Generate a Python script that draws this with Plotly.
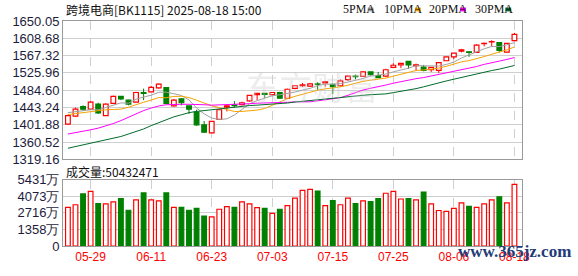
import plotly.graph_objects as go
import pandas as pd

# ---------------- data ----------------
dates = ["05-26","05-27","05-28","05-29","05-30","06-03","06-04","06-05","06-06","06-09",
         "06-10","06-11","06-12","06-13","06-16","06-17","06-18","06-19","06-20","06-23",
         "06-24","06-25","06-26","06-27","06-30","07-01","07-02","07-03","07-04","07-07",
         "07-08","07-09","07-10","07-11","07-14","07-15","07-16","07-17","07-18","07-21",
         "07-22","07-23","07-24","07-25","07-28","07-29","07-30","07-31","08-01","08-04",
         "08-05","08-06","08-07","08-08","08-11","08-12","08-13","08-14","08-15","08-18"]

opens = [1403.4,1422.6,1445.5,1439.4,1451.6,1424.1,1453.2,1470.0,1460.9,1456.2,
         1479.2,1480.8,1490.0,1490.7,1447.1,1463.9,1447.1,1432.5,1401.9,1382.7,
         1414.9,1444.0,1449.4,1450.1,1459.3,1473.9,1476.9,1473.9,1479.2,1465.4,
         1489.2,1495.3,1494.6,1499.6,1502.2,1498.4,1495.3,1509.9,1518.3,1517.5,
         1528.3,1519.8,1518.3,1539.0,1545.1,1553.5,1543.6,1539.8,1533.6,1532.1,
         1555.1,1564.3,1578.0,1576.5,1575.0,1595.7,1600.3,1598.7,1575.8,1603.3]
highs = [1426.4,1443.2,1448.6,1458.5,1454.7,1453.2,1471.6,1470.5,1461.5,1480.8,
         1488.4,1495.3,1500.7,1491.5,1463.9,1465.4,1447.5,1437.9,1411.1,1411.0,
         1439.4,1450.9,1458.5,1457.0,1473.0,1477.5,1477.5,1479.5,1480.8,1488.4,
         1495.5,1502.2,1502.2,1503.7,1506.8,1499.0,1510.6,1519.8,1522.1,1529.8,
         1529.0,1528.3,1535.9,1548.9,1549.0,1554.0,1548.2,1545.1,1539.5,1551.0,
         1565.0,1574.0,1583.4,1577.0,1594.9,1598.7,1604.1,1599.0,1597.0,1621.7]
lows = [1401.9,1421.0,1435.6,1437.9,1427.9,1424.1,1451.6,1460.9,1448.6,1455.0,
        1460.9,1479.5,1488.4,1451.6,1445.5,1448.6,1427.9,1399.6,1382.7,1382.0,
        1414.0,1434.0,1444.0,1448.6,1457.0,1460.9,1465.4,1470.0,1465.0,1463.9,
        1486.9,1492.3,1492.3,1485.4,1493.0,1476.2,1493.8,1506.8,1510.6,1516.0,
        1518.3,1514.0,1516.0,1537.5,1537.5,1536.0,1532.1,1529.8,1528.3,1526.0,
        1554.5,1558.9,1575.0,1564.3,1573.5,1589.5,1589.5,1575.0,1575.0,1601.8]
closes = [1424.1,1439.4,1439.4,1456.2,1430.2,1451.6,1470.0,1463.9,1451.6,1479.2,
          1476.9,1491.6,1499.2,1453.2,1460.9,1454.7,1439.4,1401.9,1384.2,1410.3,
          1437.9,1447.1,1447.9,1454.7,1472.3,1476.9,1474.6,1479.2,1465.4,1486.9,
          1495.3,1497.6,1500.0,1498.4,1504.5,1493.0,1506.8,1518.3,1516.8,1528.3,
          1522.1,1514.5,1533.6,1544.3,1548.9,1545.1,1545.1,1532.1,1539.0,1550.5,
          1564.3,1573.5,1581.1,1575.0,1592.6,1596.4,1601.0,1579.6,1596.4,1617.9]
# volume in 万
volumes = [3163,3375,4262,4474,3477,3454,3611,3870,2928,3768,
           4341,3768,3689,4341,3163,3163,2928,3085,2457,2378,
           3006,3218,3163,3611,3454,3140,3085,2669,3006,3297,
           3925,4553,4631,4498,3297,3713,3375,3925,3477,3689,
           3634,3870,4317,4474,3846,3870,3768,4419,3454,2904,
           2826,3085,3532,3242,3163,3454,3768,4027,3532,5043]

# moving-average values for bars before each window fills
ma5_head = [1431, 1433, 1436, 1438]
ma10_head = [1426.4, 1428.7, 1430.2, 1434.0, 1436.4, 1437.9, 1438.6, 1439.4, 1444.0]
ma20_head = [1380, 1383, 1386, 1390, 1394, 1399, 1405, 1412, 1420, 1428,
             1436, 1442, 1447, 1450, 1451, 1451, 1451, 1451, 1450]
ma30_head = [1346, 1350, 1354, 1357, 1361, 1365, 1369, 1374, 1380, 1386,
             1392, 1400, 1407, 1414, 1421, 1426, 1431, 1434, 1436, 1438,
             1441, 1443, 1445, 1446, 1448, 1449, 1450, 1451, 1453]

price_ticks = [1319.16, 1360.52, 1401.88, 1443.24, 1484.60, 1525.96, 1567.32, 1608.68, 1650.05]
vol_ticks = [0, 1358, 2716, 4073, 5431]
label_dates = ["05-29", "06-11", "06-23", "07-03", "07-15", "07-25", "08-06", "08-18"]

title_text = "跨境电商[BK1115] 2025-08-18 15:00"
vol_text = "成交量:50432471"
ma_names = ["5PMA", "10PMA", "20PMA", "30PMA"]
ma_colors = ["#a0a0a0", "#f5a300", "#ff00ff", "#006b2a"]

# ---------------- derived ----------------
RED = "#ff0000"
GREEN = "#008000"
idx = list(range(len(dates)))
up = [c >= o for o, c in zip(opens, closes)]
s = pd.Series(closes)
mas = []
for n, head in zip([5, 10, 20, 30], [ma5_head, ma10_head, ma20_head, ma30_head]):
    m = s.rolling(n).mean().tolist()
    m[:n - 1] = head
    mas.append(m)

W, H = 578, 276
L, R, T, B = 55, 56, 21, 21
PW, PH = W - L - R, H - T - B


def px(x):
    return (x - L) / PW


def py(y):
    return (H - B - y) / PH


fig = go.Figure()

# wicks (upper / lower segments so they do not cross hollow bodies)
for flag, col in [(True, RED), (False, GREEN)]:
    wx, wy = [], []
    for i in idx:
        if up[i] != flag:
            continue
        top = max(opens[i], closes[i])
        bot = min(opens[i], closes[i])
        wx += [i, i, None, i, i, None]
        wy += [highs[i], top, None, bot, lows[i], None]
    fig.add_trace(go.Scatter(x=wx, y=wy, mode="lines", line=dict(color=col, width=1),
                             hoverinfo="skip", showlegend=False, xaxis="x", yaxis="y"))

# candle bodies
bases = [min(o, c) for o, c in zip(opens, closes)]
heights = [max(abs(c - o), 0.6) for o, c in zip(opens, closes)]
fig.add_trace(go.Bar(x=idx, y=heights, base=bases, width=0.62,
                     marker=dict(color=["white" if u else GREEN for u in up],
                                 line=dict(color=[RED if u else GREEN for u in up], width=1.2)),
                     hoverinfo="skip", showlegend=False, xaxis="x", yaxis="y"))

# moving averages
for m, col in zip(mas, ma_colors):
    fig.add_trace(go.Scatter(x=idx, y=m, mode="lines", line=dict(color=col, width=1),
                             hoverinfo="skip", showlegend=False, xaxis="x", yaxis="y"))

# volume
fig.add_trace(go.Bar(x=idx, y=volumes, width=0.62,
                     marker=dict(color=["white" if u else GREEN for u in up],
                                 line=dict(color=[RED if u else GREEN for u in up], width=1.2)),
                     hoverinfo="skip", showlegend=False, xaxis="x2", yaxis="y2"))

label_idx = [dates.index(d) for d in label_dates]
xr = [-0.65, len(dates)]
grid = "#cfcfcf"
border = "#9a9a9a"
tickfont = dict(family="Liberation Sans, Arial", size=13, color="#1c1c3c")

fig.update_layout(
    width=W, height=H, margin=dict(l=L, r=R, t=T, b=B),
    paper_bgcolor="white", plot_bgcolor="white",
    showlegend=False, barmode="overlay",
    xaxis=dict(domain=[0, 1], range=xr, tickvals=label_idx, showticklabels=False,
               showgrid=True, gridcolor=grid, griddash="dash", gridwidth=1,
               showline=True, linecolor=border, mirror=True, zeroline=False, ticks=""),
    yaxis=dict(domain=[py(165), 1], range=[price_ticks[0], price_ticks[-1]],
               tickvals=price_ticks, ticktext=[f"{v:.2f}" for v in price_ticks],
               tickfont=tickfont, showgrid=True, gridcolor=grid, gridwidth=1,
               showline=True, linecolor=border, mirror=True, zeroline=False, ticks=""),
    xaxis2=dict(domain=[0, 1], range=xr, anchor="y2", matches="x",
                tickvals=label_idx, ticktext=label_dates,
                tickfont=dict(family="Liberation Sans, Arial", size=12, color="#ff0000"),
                showgrid=True, gridcolor=grid, griddash="dash", gridwidth=1,
                showline=True, linecolor=border, mirror=True, zeroline=False, ticks=""),
    yaxis2=dict(domain=[0, py(186)], range=[0, vol_ticks[-1]], anchor="x2",
                tickvals=vol_ticks, ticktext=[f"{v}万" if v else "0" for v in vol_ticks],
                tickfont=tickfont, showgrid=True, gridcolor=grid, gridwidth=1,
                showline=True, linecolor=border, mirror=True, zeroline=False, ticks=""),
)

cjk = "Noto Sans CJK SC"
ann = []
ann.append(dict(text=title_text, x=px(56), y=py(9), xref="paper", yref="paper",
                xanchor="left", yanchor="middle", showarrow=False,
                font=dict(family=cjk, size=12, color="#111111")))
ann.append(dict(text=vol_text, x=px(56), y=py(177), xref="paper", yref="paper",
                xanchor="left", yanchor="middle", showarrow=False,
                font=dict(family=cjk, size=12, color="#111111")))
# watermark
ann.append(dict(text="东方财富", x=px(308), y=py(89), xref="paper", yref="paper",
                xanchor="center", yanchor="middle", showarrow=False,
                font=dict(family=cjk, size=33, color="rgba(200,200,200,0.35)")))
# legend
leg_text_x = [338, 380, 425, 472]
leg_sq_x = [365, 413, 459, 505]
shapes = []
for name, col, tx, sx in zip(ma_names, ma_colors, leg_text_x, leg_sq_x):
    ann.append(dict(text=name, x=px(tx), y=py(9), xref="paper", yref="paper",
                    xanchor="left", yanchor="middle", showarrow=False,
                    font=dict(family="Liberation Serif, serif", size=12, color="#111111")))
    shapes.append(dict(type="rect", xref="paper", yref="paper",
                       x0=px(sx), x1=px(sx + 6), y0=py(11), y1=py(7),
                       fillcolor=col, line=dict(width=0)))
ann.append(dict(text="<b>www.365jz.com</b>", x=px(455), y=py(261), xref="paper", yref="paper",
                xanchor="left", yanchor="middle", showarrow=False,
                font=dict(family="Liberation Serif, serif", size=17, color="#1f3b78")))
fig.update_layout(annotations=ann, shapes=shapes)

fig.write_html("out.html")
